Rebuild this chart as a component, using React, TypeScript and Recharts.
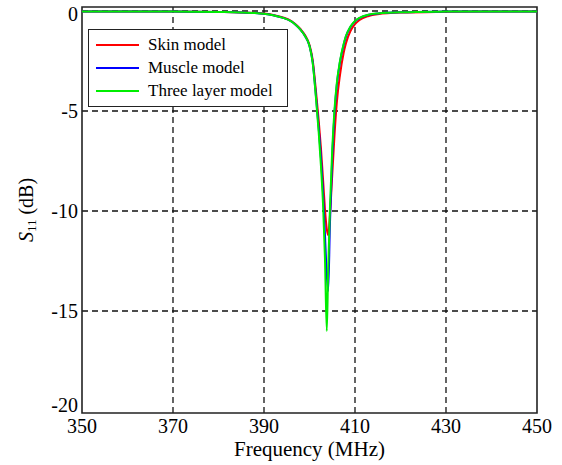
import { LineChart, Line, XAxis, YAxis, CartesianGrid, ReferenceArea } from 'recharts';

// frequency samples (MHz), denser around the resonance
const freqs = [350, 360, 370, 380, 385, 388, 390, 392, 394, 396, 397, 398, 399, 400, 400.7, 401.4, 402, 402.5, 403, 403.4, 403.8, 404.1, 404.5, 405, 405.5, 406, 406.7, 407.5, 408, 409, 410, 411, 413, 415, 420, 430, 440, 450];

// S11 in dB
const skin = [-0.02, -0.02, -0.03, -0.05, -0.07, -0.1, -0.13, -0.2, -0.31, -0.5, -0.67, -0.9, -1.2, -1.7, -2.45, -3.95, -5.4, -6.8, -8.5, -9.9, -10.9, -11.2, -10.2, -8.2, -6.2, -4.6, -3.2, -2.1, -1.62, -1.0, -0.66, -0.45, -0.25, -0.16, -0.08, -0.04, -0.02, -0.02];
const muscle = [-0.02, -0.02, -0.03, -0.05, -0.07, -0.1, -0.14, -0.21, -0.33, -0.52, -0.7, -0.93, -1.25, -1.75, -2.55, -4.2, -5.8, -7.3, -9.2, -11.2, -13.2, -14, -10.6, -7.3, -5.1, -3.7, -2.55, -1.7, -1.28, -0.8, -0.51, -0.35, -0.19, -0.12, -0.06, -0.03, -0.02, -0.02];
const threeLayer = [-0.02, -0.02, -0.03, -0.05, -0.07, -0.1, -0.14, -0.21, -0.33, -0.52, -0.7, -0.93, -1.25, -1.75, -2.6, -4.3, -6.0, -7.7, -9.8, -12.4, -16, -13.0, -9.8, -6.9, -4.9, -3.6, -2.5, -1.65, -1.25, -0.78, -0.5, -0.34, -0.18, -0.12, -0.06, -0.03, -0.02, -0.02];

const xTicks = [350, 370, 390, 410, 430, 450];
const yTicks = [0, -5, -10, -15, -20];

const series = [
    { key: 'skin', name: 'Skin model', color: '#ff0000' },
    { key: 'muscle', name: 'Muscle model', color: '#0000ff' },
    { key: 'three', name: 'Three layer model', color: '#00ee00' },
];

const data = freqs.map((f, i) => ({ f, skin: skin[i], muscle: muscle[i], three: threeLayer[i] }));

const FONT = 'Liberation Serif';

function LegendBox() {
    return (
        <div style={{ position: 'absolute', left: 88, top: 29, width: 198, border: '1.5px solid #222', background: '#fff', padding: '3px 0 4px 0', fontFamily: FONT, fontSize: 17, color: '#000' }}>
            {series.map(s => (
                <div key={s.key} style={{ display: 'flex', alignItems: 'center', height: 23 }}>
                    <div style={{ width: 43, height: 2, background: s.color, marginLeft: 7, marginRight: 9 }}></div>
                    <span>{s.name}</span>
                </div>
            ))}
        </div>
    );
}

// end labels sit a little inside the axis, as in the original
function YTick(props: any) {
    const { x, y, payload } = props;
    let shift = 0;
    if (payload.value === 0) shift = 3;
    if (payload.value === -20) shift = -6;
    return (
        <text x={x} y={y + shift} textAnchor="end" dominantBaseline="central" fontFamily={FONT} fontSize={20} fill="#000">
            {payload.value}
        </text>
    );
}

function YLabel(props: any) {
    const vb = props.viewBox || { x: 0, y: 0, height: 0 };
    const cx = 28;
    const cy = vb.y + vb.height / 2;
    return (
        <text transform={`translate(${cx},${cy}) rotate(-90)`} textAnchor="middle" dominantBaseline="middle" fontFamily={FONT} fontSize={20} fill="#000">
            <tspan fontStyle="italic">S</tspan>
            <tspan fontSize={13} dy={5}>11</tspan>
            <tspan dy={-5}> (dB)</tspan>
        </text>
    );
}

export default function App() {
    return (
        <div style={{ position: 'absolute', left: 0, top: 0, width: 562, height: 465, background: '#fff' }}>
            <LineChart width={562} height={465} data={data} margin={{ top: 7, right: 25, bottom: 0, left: 0 }}>
                <CartesianGrid
                    stroke="#111"
                    strokeWidth={1.3}
                    strokeDasharray="6 4"
                    horizontalValues={[0, -5, -10, -15]}
                    verticalValues={[370, 390, 410, 430]}
                />
                <XAxis
                    dataKey="f"
                    type="number"
                    domain={[350, 450]}
                    ticks={xTicks}
                    interval={0}
                    tickLine={false}
                    axisLine={false}
                    tickSize={4}
                    tickMargin={2}
                    height={52}
                    tick={{ fill: '#000', fontFamily: FONT, fontSize: 20 }}
                    label={{ value: 'Frequency (MHz)', position: 'insideBottom', offset: 9, fill: '#000', fontFamily: FONT, fontSize: 21 }}
                />
                <YAxis
                    type="number"
                    domain={[-20.1, 0.2]}
                    ticks={yTicks}
                    interval={0}
                    allowDataOverflow
                    tickLine={false}
                    axisLine={false}
                    tickSize={2}
                    tickMargin={2}
                    width={82}
                    tick={<YTick />}
                    label={<YLabel />}
                />
                {series.map(s => (
                    <Line
                        key={s.key}
                        type="monotone"
                        dataKey={s.key}
                        name={s.name}
                        stroke={s.color}
                        strokeWidth={2}
                        dot={false}
                        isAnimationActive={false}
                    />
                ))}
                <ReferenceArea x1={350} x2={450} y1={-20.1} y2={0.2} fill="none" stroke="#222" strokeWidth={1.6} ifOverflow="visible" />
            </LineChart>
            <LegendBox />
        </div>
    );
}
